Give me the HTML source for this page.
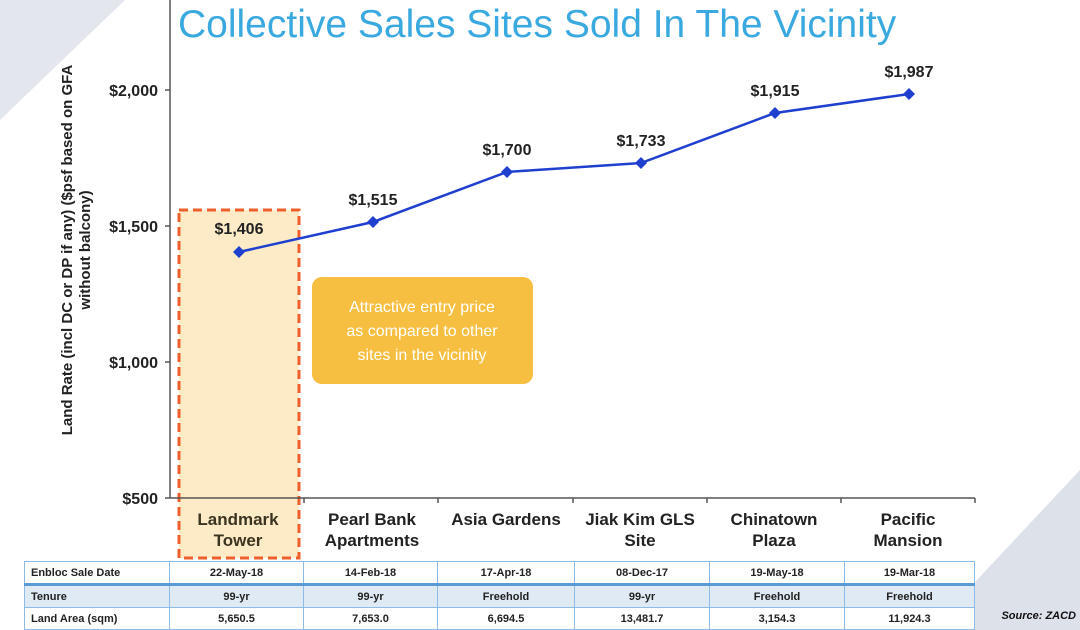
<!DOCTYPE html>
<html><head><style>
body{margin:0;width:1080px;height:630px;overflow:hidden;background:#fff;font-family:"Liberation Sans",Arial,sans-serif;position:relative}
.a{position:absolute}
table{border-collapse:collapse;font-size:11px;font-weight:bold;color:#222;background:#fff}
td{border:1px solid #8bbbe6;height:21px;padding:0 6px;text-align:center}
td:first-child{text-align:left}
</style></head><body>
<svg class="a" style="left:0;top:0" width="1080" height="630">
<polygon points="0,0 125,0 0,120" fill="#e4e6ee"/>
<polygon points="1080,470 1080,630 930,630" fill="#dde1ea"/>
<rect x="179" y="210" width="120" height="348" fill="#fdebc8" stroke="#ef5f2b" stroke-width="3" stroke-dasharray="9,5"/>
<line x1="170" y1="0" x2="170" y2="498" stroke="#555" stroke-width="1.5"/>
<line x1="170" y1="498" x2="975" y2="498" stroke="#555" stroke-width="1.5"/>
<g stroke="#555" stroke-width="1.5">
<line x1="165" y1="90" x2="170" y2="90"/><line x1="165" y1="226" x2="170" y2="226"/><line x1="165" y1="362" x2="170" y2="362"/><line x1="165" y1="498" x2="170" y2="498"/>
<line x1="304" y1="498" x2="304" y2="503"/><line x1="438" y1="498" x2="438" y2="503"/><line x1="573" y1="498" x2="573" y2="503"/><line x1="707" y1="498" x2="707" y2="503"/><line x1="841" y1="498" x2="841" y2="503"/><line x1="975" y1="498" x2="975" y2="503"/>
</g>
<g font-size="16" font-weight="bold" fill="#222" text-anchor="end">
<text x="158" y="96">$2,000</text><text x="158" y="232">$1,500</text><text x="158" y="368">$1,000</text><text x="158" y="504">$500</text></g>
<g transform="translate(72,250) rotate(-90)" font-size="15" font-weight="bold" fill="#222" text-anchor="middle">
<text x="0" y="0">Land Rate (incl DC or DP if any) ($psf based on GFA</text>
<text x="0" y="18">without balcony)</text></g>
<polyline points="239,252 373,222 507,172 641,163 775,113 909,94" fill="none" stroke="#1f3fcf" stroke-width="2.5"/>
<g fill="#1f3fcf"><path d="M239,246 l6,6 -6,6 -6,-6z"/><path d="M373,216 l6,6 -6,6 -6,-6z"/><path d="M507,166 l6,6 -6,6 -6,-6z"/><path d="M641,157 l6,6 -6,6 -6,-6z"/><path d="M775,107 l6,6 -6,6 -6,-6z"/><path d="M909,88 l6,6 -6,6 -6,-6z"/></g>
<g font-size="16" font-weight="bold" fill="#222" text-anchor="middle">
<text x="239" y="234">$1,406</text><text x="373" y="205">$1,515</text><text x="507" y="155">$1,700</text><text x="641" y="146">$1,733</text><text x="775" y="96">$1,915</text><text x="909" y="77">$1,987</text></g>
<g font-size="17" font-weight="bold" fill="#222" text-anchor="middle">
<text x="238" y="525" fill="#3a3420">Landmark</text><text x="238" y="546" fill="#3a3420">Tower</text>
<text x="372" y="525">Pearl Bank</text><text x="372" y="546">Apartments</text>
<text x="506" y="525">Asia Gardens</text>
<text x="640" y="525">Jiak Kim GLS</text><text x="640" y="546">Site</text>
<text x="774" y="525">Chinatown</text><text x="774" y="546">Plaza</text>
<text x="908" y="525">Pacific</text><text x="908" y="546">Mansion</text></g>
<rect x="312" y="277" width="221" height="107" rx="10" fill="#f6bf42"/>
<g font-size="16" fill="#fff" text-anchor="middle"><text x="422" y="312">Attractive entry price</text><text x="422" y="336">as compared to other</text><text x="422" y="360">sites in the vicinity</text></g>
<text x="178" y="37" font-size="39" fill="#3aa9e0">Collective Sales Sites Sold In The Vicinity</text>
<text x="1076" y="619" font-size="11" font-weight="bold" font-style="italic" fill="#111" text-anchor="end">Source: ZACD</text>
</svg>
<table class="a" style="left:24px;top:561px">
<col style="width:145px"><col style="width:134px"><col style="width:134px"><col style="width:137px"><col style="width:135px"><col style="width:135px"><col style="width:130px">
<tr><td>Enbloc Sale Date</td><td>22-May-18</td><td>14-Feb-18</td><td>17-Apr-18</td><td>08-Dec-17</td><td>19-May-18</td><td>19-Mar-18</td></tr>
<tr style="background:#dfeaf5;border-top:3px solid #5b9bd5"><td>Tenure</td><td>99-yr</td><td>99-yr</td><td>Freehold</td><td>99-yr</td><td>Freehold</td><td>Freehold</td></tr>
<tr><td>Land Area (sqm)</td><td>5,650.5</td><td>7,653.0</td><td>6,694.5</td><td>13,481.7</td><td>3,154.3</td><td>11,924.3</td></tr>
</table>
</body></html>
